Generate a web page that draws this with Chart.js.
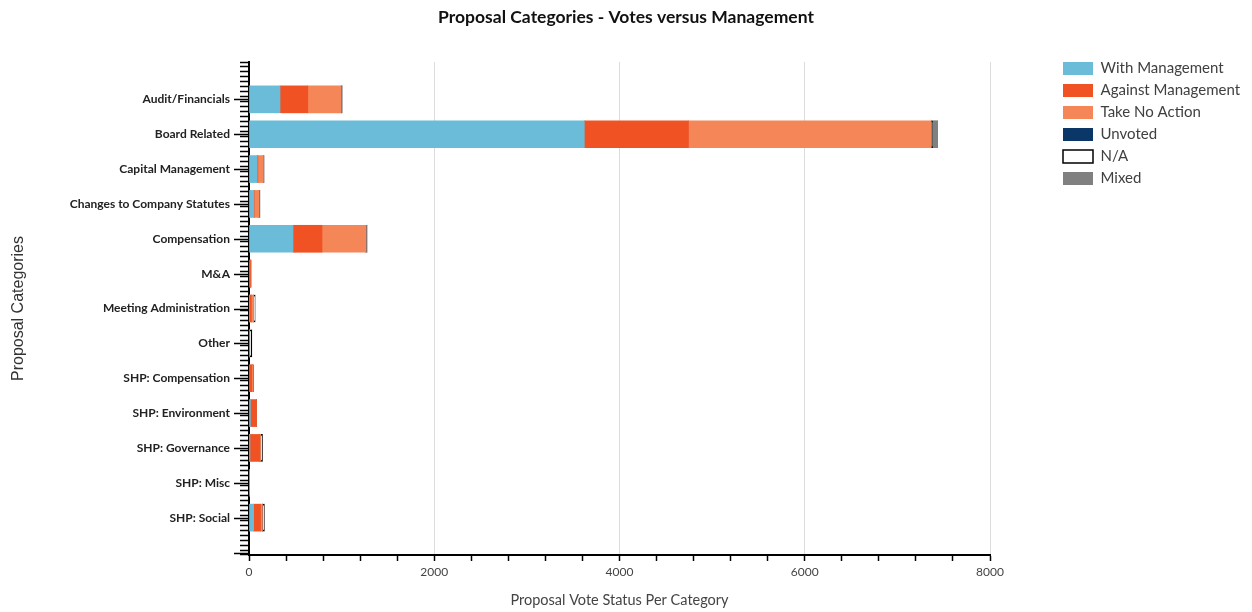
<!DOCTYPE html>
<html>
<head>
<meta charset="utf-8">
<title>Proposal Categories - Votes versus Management</title>
<script src="https://cdn.jsdelivr.net/npm/chart.js@4.4.1/dist/chart.umd.min.js"></script>
<style>
  html, body { margin: 0; padding: 0; background: #fff; }
  #wrap { width: 1252px; height: 612px; position: relative; }
</style>
</head>
<body>
<div id="wrap"><canvas id="voteChart"></canvas></div>
<script>
const categories = [
  "Audit/Financials", "Board Related", "Capital Management", "Changes to Company Statutes",
  "Compensation", "M&A", "Meeting Administration", "Other", "SHP: Compensation",
  "SHP: Environment", "SHP: Governance", "SHP: Misc", "SHP: Social"
];
const withManagement    = [335, 3620, 88, 52, 475, 0, 5, 0, 0, 15, 10, 0, 50];
const againstManagement = [300, 1125, 8, 4, 313, 15, 20, 5, 30, 65, 105, 0, 75];
const takeNoAction      = [360, 2620, 60, 52, 475, 5, 25, 0, 10, 0, 10, 0, 20];
const unvoted           = [0, 0, 0, 0, 0, 0, 0, 0, 0, 0, 0, 0, 0];
const notApplicable     = [0, 15, 0, 0, 0, 0, 15, 25, 0, 0, 20, 3, 20];
const mixed             = [12, 55, 7, 10, 12, 0, 0, 0, 10, 0, 0, 0, 0];
const xTickLabels = [0, 2000, 4000, 6000, 8000];

const series = [
  { label: "With Management", values: withManagement, color: "#6bbcd8" },
  { label: "Against Management", values: againstManagement, color: "#f05224" },
  { label: "Take No Action", values: takeNoAction, color: "#f58658" },
  { label: "Unvoted", values: unvoted, color: "#0b3768" },
  { label: "N/A", values: notApplicable, color: "#ffffff", border: "#000000" },
  { label: "Mixed", values: mixed, color: "#808080" }
];

const isWhole = v => Math.abs(v - Math.round(v)) < 1e-6;

// long ticks at each category + push legend to the right like the original
const axisDecor = {
  id: "axisDecor",
  beforeLayout(chart) {
    const lg = chart.legend;
    if (lg && !lg._patched) {
      const fit = lg.fit;
      lg.fit = function () { fit.call(this); this.width = 262; };
      lg._patched = true;
    }
  },
  afterLayout(chart) {
    const lg = chart.legend;
    lg.left += 66; lg.right += 66;
    lg.top += 54; lg.bottom += 54;
  },
  afterDraw(chart) {
    const y = chart.scales.y;
    const ctx = chart.ctx;
    ctx.save();
    ctx.strokeStyle = "#000";
    ctx.lineWidth = 1.5;
    for (let i = 0; i <= categories.length; i++) {
      const py = Math.round(y.getPixelForValue(i)) + 0.5;
      ctx.beginPath();
      ctx.moveTo(y.right - 15, py);
      ctx.lineTo(y.right, py);
      ctx.stroke();
    }
    ctx.restore();
  }
};

new Chart(document.getElementById("voteChart"), {
  type: "bar",
  data: {
    datasets: series.map(s => ({
      label: s.label,
      data: s.values.map((v, i) => ({ x: v, y: i })),
      backgroundColor: s.color,
      borderColor: s.border || s.color,
      borderWidth: s.border ? 1.5 : 0,
      borderSkipped: false,
      barThickness: 27
    }))
  },
  options: {
    indexAxis: "y",
    responsive: true,
    maintainAspectRatio: false,
    animation: false,
    layout: { padding: 0 },
    plugins: {
      title: {
        display: true,
        text: "Proposal Categories - Votes versus Management",
        font: { family: "Lato", size: 17.5, weight: "bold" },
        color: "#111",
        padding: { top: 7, bottom: 34 }
      },
      legend: {
        position: "right",
        align: "start",
        labels: {
          boxWidth: 30,
          boxHeight: 13,
          padding: 7,
          color: "#404040",
          font: { family: "Lato", size: 15 }
        }
      },
      tooltip: { enabled: false }
    },
    scales: {
      x: {
        type: "linear",
        stacked: true,
        min: 0,
        max: 8000,
        afterFit(scale) { scale.height = 57; },
        ticks: {
          stepSize: 400,
          autoSkip: false,
          maxRotation: 0,
          padding: 4,
          color: "#444",
          font: { family: "Lato", size: 12 },
          callback: v => (xTickLabels.includes(v) ? v : "")
        },
        grid: {
          color: c => (c.tick && c.tick.value !== 0 && xTickLabels.includes(c.tick.value)) ? "#dcdcdc" : "rgba(0,0,0,0)",
          lineWidth: 1,
          tickLength: 6,
          tickColor: "#000",
          tickWidth: 1.5
        },
        border: { color: "#000", width: 2 },
        title: {
          display: true,
          text: "Proposal Vote Status Per Category",
          color: "#444",
          font: { family: "Lato", size: 14.5 },
          padding: { top: 12, bottom: 3 }
        }
      },
      y: {
        type: "linear",
        stacked: true,
        reverse: true,
        min: -1,
        max: categories.length,
        afterFit(scale) { scale.width = 249; },
        ticks: {
          stepSize: 1 / 7,
          autoSkip: false,
          padding: 10,
          color: "#222",
          font: { family: "Lato", size: 12, weight: "bold" },
          callback: v => (isWhole(v) && categories[Math.round(v)] !== undefined ? categories[Math.round(v)] : "")
        },
        grid: {
          drawOnChartArea: false,
          tickLength: 9,
          tickColor: "#000",
          tickWidth: 1.5
        },
        border: { color: "#000", width: 2 },
        title: {
          display: true,
          text: "Proposal Categories",
          color: "#333",
          font: { family: "Liberation Sans", size: 16 },
          padding: { top: 9, bottom: 0 }
        }
      }
    }
  },
  plugins: [axisDecor]
});
</script>
</body>
</html>
